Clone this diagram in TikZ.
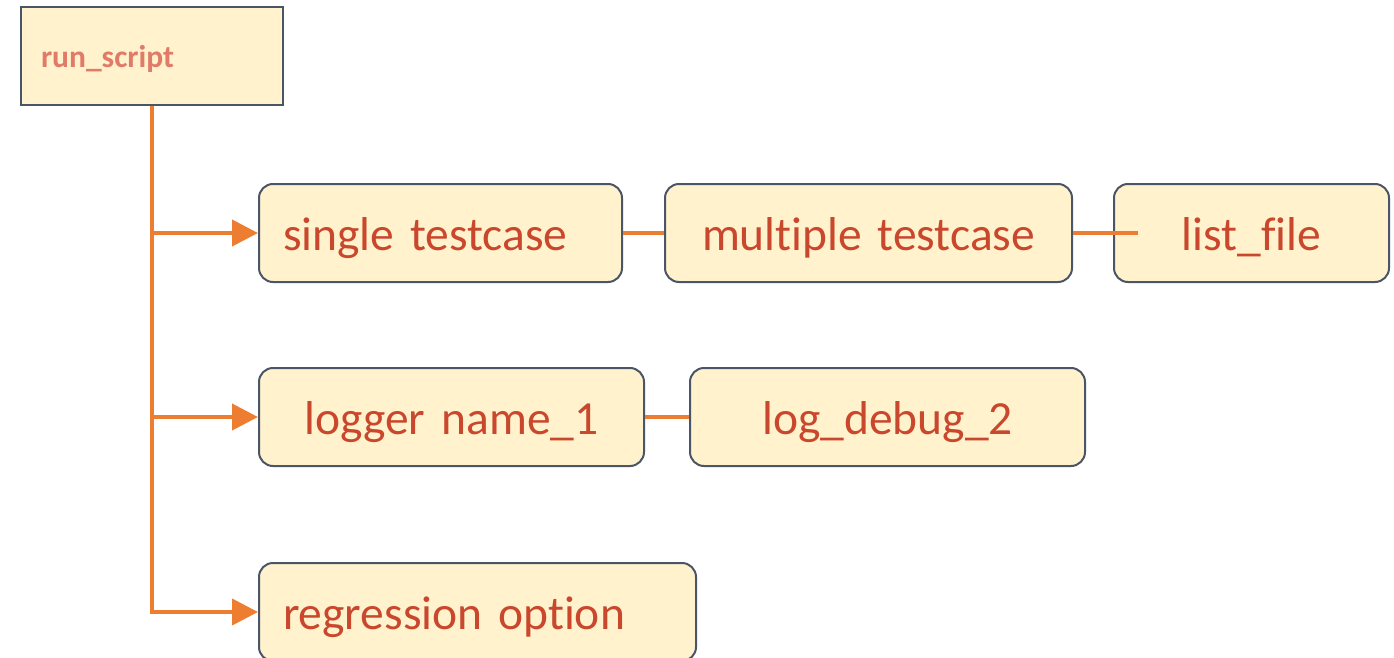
\documentclass[tikz,border=0pt]{standalone}
\usepackage{fontspec}
\setmainfont{Carlito}[Ligatures={NoCommon,NoDiscretionary}, WordSpace=0.75]
\usetikzlibrary{arrows.meta}
\definecolor{boxfill}{HTML}{FFF2CC}
\definecolor{boxline}{HTML}{4A5568}
\definecolor{linkline}{HTML}{ED7D31}
\definecolor{labeltext}{HTML}{C9472D}
\definecolor{roottext}{HTML}{E07B6A}
\tikzset{
  rootbox/.style={draw=boxline, line width=2pt, fill=boxfill, anchor=north west,
    minimum width=262pt, minimum height=98pt, inner xsep=20pt, inner ysep=0pt,
    text width=222pt, align=left, text=roottext,
    font=\fontsize{31.5}{36}\selectfont\bfseries, text height=24pt, text depth=0pt},
  optbox/.style={draw=boxline, line width=2pt, fill=boxfill, rounded corners=14pt,
    anchor=north west, minimum height=98pt, inner xsep=24pt, inner ysep=0pt,
    text=labeltext, font=\fontsize{47.5}{54}\selectfont,
    text height=34pt, text depth=0pt},
  link/.style={draw=linkline, line width=4pt},
  branch/.style={link, -{Triangle[length=26pt,width=26pt]}},
}
\begin{document}
\begin{tikzpicture}[x=1pt, y=-1pt]
\clip (0,0) rectangle (1394,658);
\fill[white] (0,0) rectangle (1394,658);

% root of the option tree
\node[rootbox] (run) at (20,6) {run\_script};

% option boxes
\node[optbox, text width=315pt, align=left]   (single) at (258,183) {single testcase};
\node[optbox, text width=359pt, align=center] (multi)  at (664,183) {multiple testcase};
\node[optbox, text width=227pt, align=center] (list)   at (1113,183) {list\_file};
\node[optbox, text width=337pt, align=center] (logger) at (258,367) {logger name\_1};
\node[optbox, text width=347pt, align=center] (debug)  at (689,367) {log\_debug\_2};
\node[optbox, text width=389pt, align=left]   (reg)    at (258,562) {regression option};

% tree connectors
\draw[branch] (run.south) |- (reg.west);
\draw[branch] (run.south |- single.west) -- (single.west);
\draw[branch] (run.south |- logger.west) -- (logger.west);

% links between sibling options
\coordinate (listend) at ([xshift=25pt]list.west);
\draw[link] (single.east) -- (multi.west);
\draw[link] (multi.east) -- (listend);
\draw[link] (logger.east) -- (debug.west);
\end{tikzpicture}
\end{document}
